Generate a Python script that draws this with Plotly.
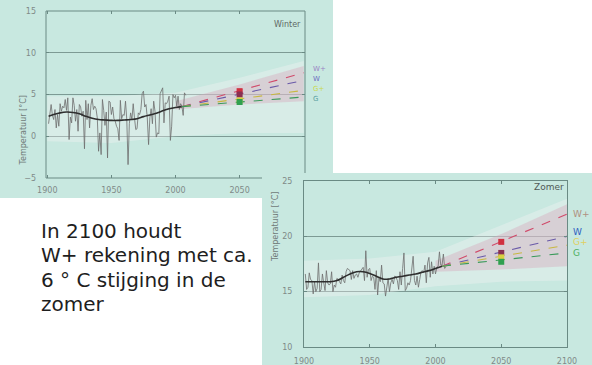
import plotly.graph_objects as go

W, H = 592, 365
def px(x): return x / W
def py(y): return 1 - y / H

# ---------------- data ----------------
obs_years = list(range(1901, 2009))
winter_obs = [1.5, 3.0, 3.8, 2.5, 2.0, 3.2, 1.0, 2.6, 1.2, 3.9,
              3.0, 3.6, 3.4, 4.4, 3.1, 4.6, -0.4, 2.3, 1.6, 4.6,
              3.7, 1.8, 3.2, 0.6, 3.8, 3.5, 2.4, 3.0, -1.5, 4.3,
              2.0, 3.9, 1.0, 3.7, 4.5, 3.2, 3.6, 3.3, 2.2, -1.8,
              0.4, -2.2, 4.4, 3.1, 1.3, 2.9, -2.6, 4.2, 4.1, 2.6,
              3.5, 2.1, 1.8, 1.2, 0.9, -0.5, 4.3, 2.1, 2.6, 2.5,
              4.2, 2.0, -3.4, 1.5, 2.8, 2.0, 3.9, 2.2, 0.8, 0.9,
              2.8, 2.6, 3.2, 5.1, 5.4, 3.5, 3.8, 2.2, -1.0, 2.2,
              3.3, 1.5, 4.2, 3.0, -0.1, 0.4, 0.3, 5.1, 5.6, 5.8,
              1.6, 4.0, 3.9, 4.2, 4.8, -0.5, 1.2, 5.0, 4.6, 4.9,
              3.6, 4.8, 3.2, 3.9, 3.6, 2.5, 5.2, 4.9]
summer_obs = [16.6, 15.2, 15.4, 16.7, 16.1, 16.0, 14.8, 15.9, 15.0, 15.3,
              17.6, 15.0, 15.2, 16.6, 15.8, 15.1, 16.9, 15.8, 15.6, 15.7,
              16.8, 15.0, 15.6, 15.4, 16.2, 16.1, 15.9, 15.7, 16.5, 16.0,
              15.8, 16.8, 17.1, 17.0, 16.9, 16.1, 16.9, 16.2, 16.5, 16.6,
              16.3, 16.7, 16.9, 17.0, 17.2, 16.0, 18.7, 16.3, 17.0, 17.1,
              16.0, 16.4, 16.3, 15.2, 16.9, 14.7, 16.2, 15.9, 17.4, 15.8,
              15.7, 14.6, 15.6, 16.2, 15.0, 15.8, 16.1, 15.7, 16.4, 16.3,
              16.0, 15.2, 16.8, 15.6, 17.1, 18.5, 15.1, 15.3, 15.8, 15.6,
              16.0, 17.3, 18.2, 16.0, 15.6, 16.4, 15.4, 16.1, 16.8, 16.9,
              16.7, 17.4, 15.8, 17.6, 18.1, 16.3, 17.7, 16.6, 17.3, 16.6,
              17.2, 17.3, 18.6, 17.4, 17.4, 18.4, 17.1, 17.3]

smooth_years = [1901, 1905, 1910, 1915, 1920, 1925, 1930, 1935, 1940, 1945, 1950,
                1955, 1960, 1965, 1970, 1975, 1980, 1985, 1990, 1995, 2000, 2005]
winter_smooth = [2.4, 2.6, 2.8, 2.9, 2.85, 2.7, 2.4, 2.15, 2.0, 1.95, 1.9,
                 1.9, 1.95, 2.0, 2.1, 2.35, 2.55, 2.75, 3.05, 3.3, 3.45, 3.55]
summer_smooth = [15.9, 15.9, 15.9, 15.9, 15.9, 16.0, 16.3, 16.6, 16.8, 16.8, 16.65,
                 16.4, 16.15, 16.15, 16.3, 16.4, 16.5, 16.6, 16.75, 16.9, 17.1, 17.3]

scen_names = ["W+", "W", "G+", "G"]
scen_years = [2005, 2100]
winter_start = 3.55
winter_2100 = [7.6, 6.7, 5.5, 4.7]
summer_start = 17.3
summer_2100 = [22.0, 20.0, 19.2, 18.5]
mark_year = 2050
winter_2050 = [5.4, 5.0, 4.3, 4.1]
summer_2050 = [19.5, 18.5, 18.1, 17.7]

band_years = [1900, 1950, 2000, 2050, 2100]
winter_outer_lo = [-0.6, -0.8, 0.0, 0.4, 0.4]
winter_outer_hi = [4.8, 4.8, 5.2, 7.0, 9.0]
summer_outer_lo = [14.5, 14.7, 15.5, 15.9, 16.0]
summer_outer_hi = [17.8, 18.0, 18.6, 21.0, 23.4]
fan_years = [2000, 2050, 2100]
winter_inner_lo = [3.2, 3.8, 4.2]
winter_inner_hi = [4.2, 6.2, 8.4]
summer_inner_lo = [16.8, 17.0, 17.3]
summer_inner_hi = [17.8, 20.2, 22.9]

line_colors = ["#d04a6a", "#6a5aa8", "#c8b840", "#3a9a5a"]
mark_colors = ["#d03040", "#8a3050", "#d8d040", "#30a050"]
winter_label_colors = ["#9a84c4", "#6c6cc0", "#c8d850", "#5aa0a0"]
summer_label_colors = ["#b09080", "#3060c0", "#e0d060", "#50b060"]

BG = "#c8e8e0"
FRAME = "#6a8a84"
GRID = "#7d9a94"
TICKF = dict(family="DejaVu Sans", size=8, color="#808a88")

fig = go.Figure()

def add_panel(xa, ya, obs, smooth, start, end2100, v2050, olo, ohi, ilo, ihi):
    fig.add_trace(go.Scatter(x=band_years + band_years[::-1], y=ohi + olo[::-1],
                             fill="toself", fillcolor="rgba(255,246,248,0.30)",
                             line=dict(width=0), mode="lines", hoverinfo="skip",
                             xaxis=xa, yaxis=ya, showlegend=False))
    fig.add_trace(go.Scatter(x=fan_years + fan_years[::-1], y=ihi + ilo[::-1],
                             fill="toself", fillcolor="rgba(214,168,188,0.40)",
                             line=dict(width=0), mode="lines", hoverinfo="skip",
                             xaxis=xa, yaxis=ya, showlegend=False))
    fig.add_trace(go.Scatter(x=obs_years, y=obs, mode="lines",
                             line=dict(color="rgba(110,110,110,0.8)", width=1),
                             xaxis=xa, yaxis=ya, showlegend=False))
    fig.add_trace(go.Scatter(x=smooth_years, y=smooth, mode="lines",
                             line=dict(color="#2e2e2e", width=1.6, shape="spline"),
                             xaxis=xa, yaxis=ya, showlegend=False))
    for i, name in enumerate(scen_names):
        fig.add_trace(go.Scatter(x=scen_years, y=[start, end2100[i]], mode="lines",
                                 line=dict(color=line_colors[i], width=1.1, dash="dash"),
                                 xaxis=xa, yaxis=ya, showlegend=False))
    for i, name in enumerate(scen_names):
        fig.add_trace(go.Scatter(x=[mark_year], y=[v2050[i]], mode="markers",
                                 marker=dict(color=mark_colors[i], size=6, symbol="square"),
                                 xaxis=xa, yaxis=ya, showlegend=False))

add_panel("x", "y", winter_obs, winter_smooth, winter_start, winter_2100, winter_2050,
          winter_outer_lo, winter_outer_hi, winter_inner_lo, winter_inner_hi)
add_panel("x2", "y2", summer_obs, summer_smooth, summer_start, summer_2100, summer_2050,
          summer_outer_lo, summer_outer_hi, summer_inner_lo, summer_inner_hi)

shapes = [
    dict(type="rect", xref="paper", yref="paper", x0=px(0), x1=px(333), y0=py(198), y1=py(0),
         fillcolor=BG, line=dict(width=0), layer="below"),
    dict(type="rect", xref="paper", yref="paper", x0=px(262), x1=px(592), y0=py(365), y1=py(173),
         fillcolor=BG, line=dict(width=0), layer="below"),
    dict(type="line", xref="paper", yref="paper", x0=px(46), x1=px(305), y0=py(11), y1=py(11),
         line=dict(color=FRAME, width=1), layer="below"),
    dict(type="line", xref="paper", yref="paper", x0=px(46), x1=px(46), y0=py(11), y1=py(178),
         line=dict(color=FRAME, width=1), layer="below"),
    dict(type="line", xref="paper", yref="paper", x0=px(305), x1=px(305), y0=py(11), y1=py(173),
         line=dict(color=FRAME, width=1), layer="below"),
    dict(type="line", xref="paper", yref="paper", x0=px(46), x1=px(262), y0=py(178), y1=py(178),
         line=dict(color=FRAME, width=1), layer="below"),
]

annotations = []
TITLEF = dict(family="DejaVu Sans", size=8, color="#707a78")
annotations.append(dict(text="Temperatuur [°C]", xref="paper", yref="paper", x=px(16), y=py(94),
                        textangle=-90, showarrow=False, font=TITLEF))
annotations.append(dict(text="Temperatuur [°C]", xref="paper", yref="paper", x=px(275), y=py(264),
                        textangle=-90, showarrow=False, font=TITLEF))
annotations.append(dict(text="Winter", xref="paper", yref="paper", x=px(303), y=py(18),
                        xanchor="right", showarrow=False, font=dict(family="DejaVu Sans", size=8, color="#606866")))
annotations.append(dict(text="Zomer", xref="paper", yref="paper", x=px(566), y=py(187),
                        xanchor="right", showarrow=False, font=dict(family="DejaVu Sans", size=9, color="#505856")))
winter_label_y = [8.0, 6.8, 5.6, 4.5]
summer_label_y = [22.0, 20.4, 19.5, 18.5]
for i, name in enumerate(scen_names):
    annotations.append(dict(text=name, xref="paper", yref="y", x=px(311), y=winter_label_y[i],
                            xanchor="left", showarrow=False,
                            font=dict(family="DejaVu Sans", size=7, color=winter_label_colors[i])))
    annotations.append(dict(text=name, xref="paper", yref="y2", x=px(571), y=summer_label_y[i],
                            xanchor="left", showarrow=False,
                            font=dict(family="DejaVu Sans", size=9, color=summer_label_colors[i])))

text_lines = ["In 2100 houdt", "W+ rekening met ca.", "6 ° C stijging in de", "zomer"]
for i, t in enumerate(text_lines):
    annotations.append(dict(text=t, xref="paper", yref="paper", x=px(39), y=py(231 + 24.3 * i),
                            xanchor="left", yanchor="middle", showarrow=False,
                            font=dict(family="DejaVu Sans", size=20, color="#1e1e1e")))

common_x = dict(showgrid=False, zeroline=False, ticks="inside", ticklen=3, tickcolor=FRAME,
                mirror="ticks", tickfont=TICKF, automargin=False, ticklabelstandoff=6)
common_y = dict(showgrid=True, gridcolor=GRID, gridwidth=1, zeroline=False, ticks="inside",
                ticklen=3, tickcolor=FRAME, mirror="ticks", tickfont=TICKF, ticklabelstandoff=9,
                automargin=False)

fig.update_layout(
    width=W, height=H, margin=dict(l=0, r=0, t=0, b=0, pad=0, autoexpand=False),
    paper_bgcolor="white", plot_bgcolor="rgba(0,0,0,0)",
    showlegend=False, shapes=shapes, annotations=annotations,
    xaxis=dict(domain=[px(46), px(305)], range=[1899, 2101], anchor="y",
               tickvals=[1900, 1950, 2000, 2050], showline=False, **common_x),
    yaxis=dict(domain=[py(178), py(11)], range=[-5, 15], anchor="x",
               tickvals=[-5, 0, 5, 10, 15], showline=False, **common_y),
    xaxis2=dict(domain=[px(304), px(567)], range=[1900, 2100], anchor="y2",
                tickvals=[1900, 1950, 2000, 2050, 2100], showline=True, linecolor=FRAME, linewidth=1,
                **common_x),
    yaxis2=dict(domain=[py(347), py(181)], range=[10, 25], anchor="x2",
                tickvals=[10, 15, 20, 25], showline=True, linecolor=FRAME, linewidth=1,
                **common_y),
)

fig.write_html("out.html")
